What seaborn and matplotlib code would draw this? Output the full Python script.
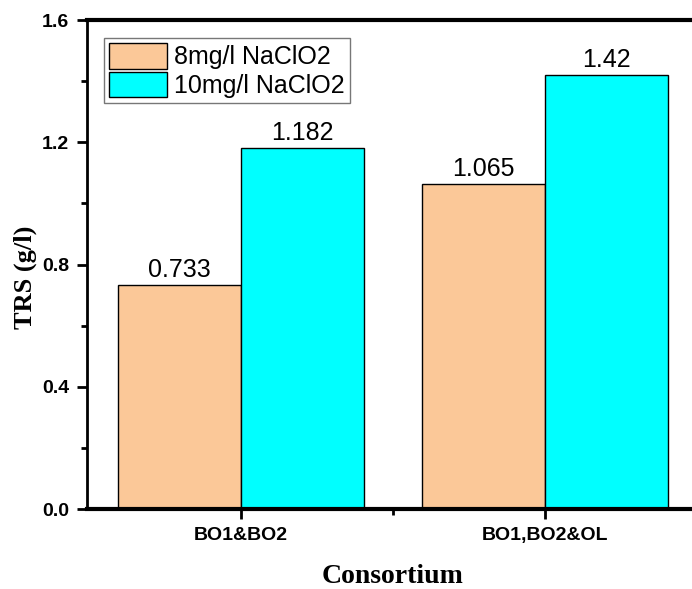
import matplotlib
matplotlib.use("Agg")
import matplotlib.pyplot as plt
from matplotlib.ticker import MultipleLocator, FixedLocator
import seaborn as sns
import pandas as pd

consortia = ["BO1&BO2", "BO1,BO2&OL"]
dose_8 = [0.733, 1.065]
dose_10 = [1.182, 1.42]
doses = ["8mg/l NaClO2", "10mg/l NaClO2"]
colors = ["#FBC898", "#00FFFF"]

df = pd.DataFrame({
    "Consortium": consortia * 2,
    "TRS": dose_8 + dose_10,
    "Dose": [doses[0]] * 2 + [doses[1]] * 2,
})

sns.set_theme(style="ticks", rc={
    "text.color": "black", "axes.labelcolor": "black",
    "xtick.color": "black", "ytick.color": "black",
    "axes.edgecolor": "black",
})
plt.rcParams["font.family"] = ["Liberation Sans", "DejaVu Sans"]

fig = plt.figure(figsize=(6.92, 5.89), dpi=100)
ax = fig.add_axes([87 / 692, 1 - 509 / 589, 612 / 692, 489 / 589])

sns.barplot(data=df, x="Consortium", y="TRS", hue="Dose", hue_order=doses,
            palette=colors, width=0.81, gap=0, edgecolor="black", linewidth=1,
            saturation=1, ax=ax)

for cont in ax.containers:
    ax.bar_label(cont, fmt="%g", fontsize=18, padding=2, color="black")

ax.set_ylim(0, 1.6)
ax.set_xlim(-0.507, 1.507)
ax.yaxis.set_major_locator(MultipleLocator(0.4))
ax.yaxis.set_minor_locator(MultipleLocator(0.2))
ax.xaxis.set_minor_locator(FixedLocator([0.5]))
ax.set_yticklabels([f"{v:.1f}" for v in ax.get_yticks()])

for s in ["top", "bottom"]:
    ax.spines[s].set_linewidth(3)
ax.spines["left"].set_linewidth(2)
ax.spines["right"].set_linewidth(2)

ax.tick_params(axis="both", which="major", direction="out", length=7, width=2,
               labelsize=14, pad=6)
ax.tick_params(axis="both", which="minor", direction="out", length=4, width=2)
for lab in ax.get_xticklabels() + ax.get_yticklabels():
    lab.set_fontweight("bold")

ax.set_xlabel("Consortium", fontsize=20, fontweight="bold",
              fontfamily="Liberation Serif")
ax.xaxis.set_label_coords(0.5, -0.113)
ax.set_ylabel("TRS (g/l)", fontsize=19, fontweight="bold",
              fontfamily="Liberation Serif")
ax.yaxis.set_label_coords(-0.082, 0.474)

leg = ax.legend(loc="upper left", bbox_to_anchor=(0.028, 0.963), fontsize=18,
                frameon=True, fancybox=False, edgecolor="#555555",
                handlelength=2.3, handleheight=1.2, borderpad=0.2,
                labelspacing=0.1, handletextpad=0.3, borderaxespad=0)
leg.get_frame().set_linewidth(1)
for h in leg.legend_handles:
    h.set_edgecolor("black")

fig.savefig("out.png", dpi=100)
